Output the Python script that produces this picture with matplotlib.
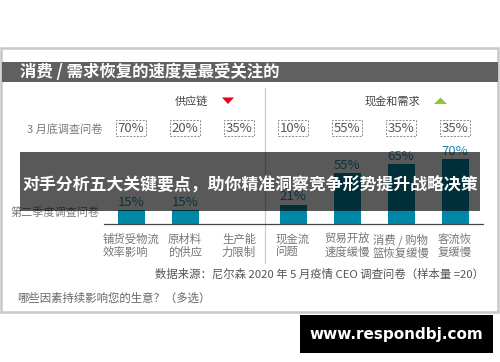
import matplotlib
matplotlib.use("Agg")
import matplotlib.pyplot as plt
from matplotlib import transforms
from matplotlib.patches import Rectangle, Polygon

plt.rcParams['font.family'] = ['Noto Sans CJK SC', 'DejaVu Sans']

# ---- data ----
categories = ["铺货受物流\n效率影响", "原材料\n的供应", "生产能\n力限制",
              "现金流\n问题", "贸易开放\n速度缓慢", "消费 / 购物\n篮恢复缓慢", "客流恢\n复缓慢"]
march_values = [70, 20, 35, 10, 55, 35, 35]
q2_values = [15, 15, 0, 21, 55, 65, 70]
group_labels = ["供应链", "现金和需求"]
title = "消费 / 需求恢复的速度是最受关注的"
banner = "对手分析五大关键要点，助你精准洞察竞争形势提升战略决策"
row_labels = ["3 月底调查问卷", "第二季度调查问卷"]
source = "数据来源：尼尔森 2020 年 5 月疫情 CEO 调查问卷（样本量 =20）"
question = "哪些因素持续影响您的生意？（多选）"
watermark = "www.respondbj.com"

W, H = 500, 362
fig = plt.figure(figsize=(W / 100, H / 100), dpi=100)
fig.patch.set_facecolor("white")

# background / pixel-coordinate axes
bg = fig.add_axes([0, 0, 1, 1], zorder=0)
bg.set_xlim(0, W)
bg.set_ylim(H, 0)
bg.axis("off")

# frame
bg.add_patch(Rectangle((1, 47.5), 497, 264.5, fill=False, ec="#c8c8c8", lw=1.8))
# title bar
bg.add_patch(Rectangle((2, 62), 496, 19.5, fc="#606060", ec="none"))
bg.text(20, 72, title, color="white", fontsize=11.8, fontweight="bold",
        va="center", ha="left")

# bar axes
x0, x1, base, ymax = 104, 483, 224, 80
pxper = 65 / 70
ax = fig.add_axes([x0 / W, 1 - base / H, (x1 - x0) / W, ymax * pxper / H], zorder=1)
ax.patch.set_visible(False)
n = len(categories)
pos = list(range(n))
ax.set_xlim(-0.5, (x1 - 131) / 54)
ax.set_ylim(0, ymax)
ax.bar(pos, q2_values, width=0.5, color="#0087a8")
for p, v in zip(pos, q2_values):
    if v > 0:
        ax.text(p, v + 1.2, f"{v}%", ha="center", va="bottom", color="#1f8aa8",
                fontsize=9.5)
for s in ["top", "right", "left"]:
    ax.spines[s].set_visible(False)
ax.spines["bottom"].set_color("#444444")
ax.spines["bottom"].set_linewidth(0.9)
ax.set_xticks([])
ax.set_yticks([])

tr = transforms.blended_transform_factory(ax.transData, bg.transData)

# divider
bg.plot([265, 265], [88, 263], color="#cccccc", lw=0.9)

# group headers
bg.text(191, 101, group_labels[0], ha="center", va="center", fontsize=8, color="#444444")
bg.add_patch(Polygon([[222, 97.5], [234, 97.5], [228, 104]], closed=True, fc="#e8001c", ec="none"))
bg.text(392, 101, group_labels[1], ha="center", va="center", fontsize=8, color="#444444")
bg.add_patch(Polygon([[434, 104], [447, 104], [440.5, 97.5]], closed=True, fc="#8dc63f", ec="none"))

# row labels
bg.text(102, 129, row_labels[0], ha="right", va="center", fontsize=8, color="#7a7a7a")
bg.text(100, 213, row_labels[1], ha="right", va="center", fontsize=8, color="#7a7a7a")

# March values in dashed boxes
for p, v in zip(pos, march_values):
    bg.text(p, 128, f"{v}%", transform=tr, ha="center", va="center", fontsize=9.5,
            color="#555555",
            bbox=dict(boxstyle="square,pad=0.12", fc="white", ec="#8a8a8a",
                      ls=(0, (2, 1.5)), lw=0.7))

# category labels
for p, c in zip(pos, categories):
    bg.text(p, 233.5, c, transform=tr, ha="center", va="top", fontsize=8.2,
            color="#777777", multialignment="left", linespacing=1.25)

# source & question
bg.text(484, 274, source, ha="right", va="center", fontsize=8.2, color="#555555")
bg.text(17, 298, question, ha="left", va="center", fontsize=8.2, color="#666666")

# overlay axes (banner + watermark)
top = fig.add_axes([0, 0, 1, 1], zorder=2)
top.set_xlim(0, W)
top.set_ylim(H, 0)
top.axis("off")
top.patch.set_visible(False)
top.add_patch(Rectangle((20, 152), 460, 59, fc="black", alpha=0.65, ec="none"))
top.text(250, 185, banner, ha="center", va="center", color="white", fontsize=12.2,
         fontweight="bold")
top.add_patch(Rectangle((300, 315), 193, 38, fc="black", ec="none"))
top.text(396, 334, watermark, ha="center", va="center", color="white", fontsize=11,
         fontweight="bold", family=["DejaVu Sans"])

fig.savefig("out.png", dpi=100)
